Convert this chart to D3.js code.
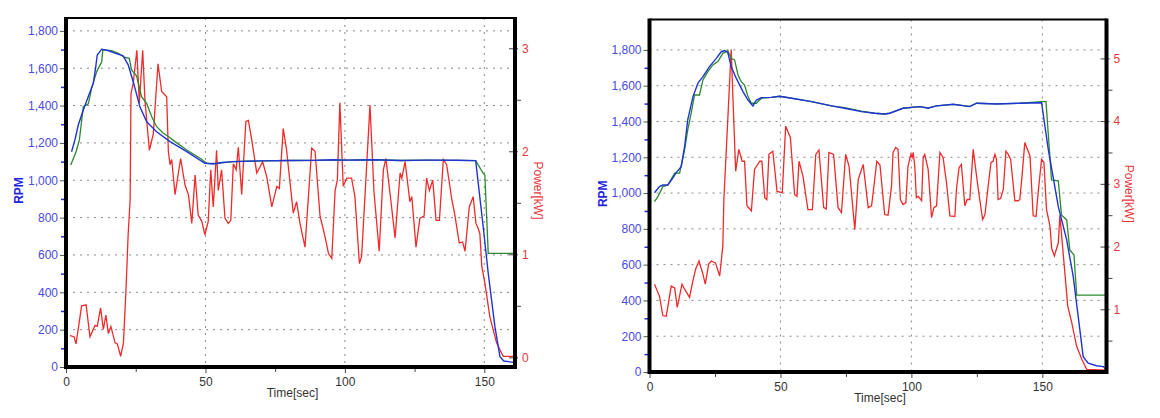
<!DOCTYPE html>
<html>
<head>
<meta charset="utf-8">
<script src="https://cdn.jsdelivr.net/npm/d3@7"></script>
<style>
  body { margin: 0; background: #fff; }
  svg { display: block; font-family: "Liberation Sans", Arial, sans-serif; }
</style>
</head>
<body>
<div id="plot"></div>
<script>
var rpmTicks = [0, 200, 400, 600, 800, 1000, 1200, 1400, 1600, 1800];
var rpmMinorTicks = [100, 300, 500, 700, 900, 1100, 1300, 1500, 1700];
var timeTicks = [0, 50, 100, 150];
var timeMinorTicks = [25, 75, 125];
var leftPowerTicks = [0, 1, 2, 3];
var leftPowerMinorTicks = [0.5, 1.5, 2.5];
var rightPowerTicks = [1, 2, 3, 4, 5];
var rightPowerMinorTicks = [0.5, 1.5, 2.5, 3.5, 4.5];

// [time sec, rpm] - measured speed (blue)
var leftMeasuredRpm = [[2.0,1153],[3.2,1216],[4.4,1296],[6.2,1376],[8.0,1448],[9.8,1520],[10.6,1600],[11.2,1671],[12.8,1702],[15.0,1695],[17.0,1684],[20.5,1666],[22.3,1618],[24.1,1528],[26.5,1394],[28.9,1314],[32.5,1260],[37.3,1207],[43.3,1153],[49.8,1091],[52.8,1087],[56.0,1095],[60.0,1100],[70.0,1104],[80.0,1106],[90.0,1107],[96.0,1110],[100.0,1108],[110.0,1110],[120.0,1106],[130.0,1108],[140.0,1107],[146.9,1105],[149.6,751],[151.4,502],[153.8,216],[155.6,55],[157.0,32],[160.4,25]];
// [time sec, rpm] - command speed (green)
var leftCommandRpm = [[1.7,1082],[3.6,1153],[4.8,1216],[6.2,1394],[8.0,1409],[9.2,1493],[11.0,1582],[12.8,1635],[13.2,1698],[16.4,1694],[18.8,1680],[20.8,1659],[22.7,1653],[23.5,1591],[25.3,1559],[27.1,1448],[28.9,1412],[30.7,1341],[32.5,1287],[34.9,1252],[36.7,1234],[39.1,1207],[43.3,1162],[48.1,1118],[50.4,1091],[54.0,1091],[60.0,1100],[70.0,1104],[80.0,1106],[90.0,1107],[100.0,1108],[110.0,1110],[120.0,1106],[130.0,1108],[140.0,1107],[146.9,1105],[149.6,1037],[150.2,1028],[151.4,609],[161.0,609]];
// [time sec, kW] - power (red)
var leftPower = [[1.4,0.21],[2.9,0.20],[3.6,0.13],[5.6,0.50],[7.2,0.51],[8.6,0.20],[10.4,0.31],[11.2,0.30],[12.4,0.48],[13.4,0.27],[14.3,0.41],[15.2,0.23],[16.1,0.30],[17.6,0.14],[18.4,0.13],[19.6,0.01],[20.6,0.14],[21.5,0.65],[22.3,1.20],[23.0,1.53],[23.3,2.56],[24.1,2.66],[25.4,2.98],[26.3,2.47],[27.5,2.98],[28.3,2.50],[29.9,2.01],[31.3,2.17],[33.0,2.85],[34.3,2.58],[36.1,2.53],[36.7,2.00],[37.3,1.87],[37.9,1.92],[39.1,1.58],[41.1,1.93],[42.7,1.67],[43.9,1.58],[45.1,1.30],[46.3,1.77],[47.4,1.38],[48.7,1.32],[49.8,1.19],[51.0,1.32],[51.9,1.82],[52.8,1.46],[54.0,2.01],[54.6,1.62],[55.8,1.82],[57.0,1.35],[58.2,1.30],[59.1,1.33],[60.0,1.88],[61.0,1.82],[61.8,2.04],[63.0,1.58],[64.5,2.29],[65.4,2.30],[66.6,2.11],[68.4,1.79],[69.6,1.85],[70.5,1.90],[72.0,1.75],[73.8,1.46],[75.6,1.66],[76.5,1.64],[77.9,2.22],[79.1,2.01],[81.5,1.40],[82.7,1.51],[83.9,1.30],[85.7,1.07],[88.1,2.03],[89.3,2.00],[91.1,1.37],[92.9,1.17],[94.1,1.01],[95.3,0.96],[96.5,1.62],[97.3,1.72],[98.2,2.47],[99.4,1.66],[100.7,1.74],[102.4,1.74],[103.6,1.56],[105.2,0.91],[106.0,0.98],[107.2,1.56],[109.0,2.45],[110.4,1.62],[112.3,1.03],[113.8,1.82],[114.7,1.93],[116.2,1.59],[118.0,1.16],[119.8,1.79],[120.4,1.74],[121.6,1.90],[123.3,1.51],[124.0,1.56],[125.5,1.07],[126.9,1.35],[128.4,1.37],[129.3,1.74],[130.3,1.62],[131.5,1.72],[132.7,1.33],[133.9,1.33],[135.3,1.92],[136.5,1.87],[138.3,1.54],[139.5,1.37],[141.0,1.11],[142.2,1.12],[143.1,1.03],[144.6,1.46],[146.0,1.56],[147.0,1.30],[147.8,1.25],[148.4,1.20],[149.1,0.88],[150.2,0.72],[152.0,0.39],[154.4,0.14],[156.2,0.04],[156.8,0.01],[160.4,0.01]];

var rightMeasuredRpm = [[1.9,1002],[3.8,1036],[5.1,1045],[7.0,1045],[8.9,1083],[10.2,1114],[12.1,1148],[13.4,1259],[14.6,1409],[16.6,1539],[18.5,1614],[20.4,1651],[22.9,1707],[25.5,1753],[27.4,1790],[28.7,1796],[29.9,1785],[31.2,1707],[33.1,1642],[35.7,1567],[37.6,1520],[39.5,1487],[40.8,1520],[42.7,1533],[46.5,1535],[49.7,1541],[54.2,1530],[61.9,1511],[69.5,1487],[74.5,1474],[80.9,1455],[86.0,1446],[89.8,1442],[91.7,1446],[96.8,1474],[103.2,1483],[106.4,1474],[109.6,1487],[116.0,1496],[122.3,1483],[124.9,1502],[132.5,1498],[141.4,1502],[149.7,1505],[152.3,1241],[156.1,924],[159.3,738],[161.8,533],[163.7,309],[165.6,86],[167.5,49],[170.7,35],[173.3,30],[174.5,11]];
var rightCommandRpm = [[1.9,952],[3.2,980],[5.1,1036],[7.0,1045],[9.6,1111],[11.5,1111],[13.4,1241],[14.6,1353],[15.9,1446],[17.2,1548],[19.1,1548],[20.4,1632],[22.3,1679],[24.2,1716],[26.1,1735],[28.0,1781],[29.9,1796],[31.2,1753],[32.5,1744],[33.8,1660],[35.0,1623],[36.3,1604],[37.6,1539],[38.9,1502],[40.8,1502],[42.7,1530],[46.5,1535],[49.7,1541],[54.2,1530],[61.9,1511],[69.5,1487],[74.5,1478],[80.9,1458],[86.0,1446],[89.8,1442],[91.7,1446],[96.8,1474],[103.2,1483],[106.4,1476],[109.6,1487],[116.0,1496],[122.3,1485],[124.9,1502],[132.5,1498],[141.4,1502],[149.7,1511],[151.4,1511],[153.5,1073],[156.1,1068],[157.3,878],[159.3,850],[160.5,682],[162.1,654],[163.1,430],[174.5,430]];
var rightPower = [[1.9,1.40],[3.8,1.21],[5.1,0.90],[6.4,0.89],[8.3,1.37],[9.6,1.34],[10.6,1.03],[12.4,1.40],[13.4,1.32],[15.3,1.19],[15.9,1.32],[17.6,1.64],[18.9,1.77],[20.4,1.56],[21.3,1.40],[22.6,1.72],[23.6,1.77],[25.2,1.74],[26.8,1.53],[28.0,2.01],[28.4,2.75],[31.2,5.14],[32.1,4.10],[32.9,3.20],[34.1,3.55],[35.4,3.36],[36.3,3.36],[37.2,2.65],[38.9,2.57],[40.1,3.23],[42.1,3.36],[42.9,3.36],[44.0,2.78],[44.8,2.75],[45.6,3.47],[47.1,3.52],[48.7,2.88],[50.7,2.86],[52.0,3.92],[53.8,3.74],[55.4,2.83],[56.3,2.80],[57.1,3.36],[58.6,3.12],[60.5,2.59],[62.2,2.59],[63.5,3.47],[64.7,3.54],[66.5,2.62],[67.5,2.60],[68.5,3.50],[70.3,3.47],[72.0,2.62],[73.3,2.54],[74.9,3.47],[76.2,3.28],[78.4,2.27],[79.7,3.07],[81.6,3.31],[83.5,2.62],[84.8,2.65],[86.8,3.36],[88.0,3.30],[89.8,2.51],[91.1,2.50],[92.4,2.96],[93.0,3.50],[94.0,3.58],[94.9,3.55],[95.8,2.75],[96.8,2.67],[97.9,2.70],[98.7,3.28],[99.8,3.47],[100.3,3.42],[100.7,3.50],[101.3,3.28],[101.9,2.78],[102.6,2.80],[103.9,2.73],[104.5,3.42],[105.1,3.47],[106.4,3.23],[107.7,2.46],[108.6,2.62],[109.6,2.65],[110.9,3.50],[112.1,3.42],[113.4,3.02],[114.7,2.49],[116.6,2.48],[117.2,2.91],[118.2,3.26],[119.1,3.31],[120.4,2.65],[121.3,2.75],[122.3,2.75],[123.6,3.55],[124.9,3.12],[126.1,2.75],[127.2,2.43],[128.1,2.51],[129.3,2.96],[130.4,3.34],[131.2,3.36],[131.9,3.47],[132.5,3.39],[133.1,2.75],[134.1,2.77],[135.1,2.91],[136.1,3.52],[137.0,3.47],[137.9,3.39],[139.5,2.73],[140.8,2.73],[141.4,2.75],[142.3,3.15],[143.3,3.66],[144.6,3.52],[145.3,3.44],[146.5,2.49],[147.6,2.48],[148.4,2.86],[149.7,3.39],[150.6,3.34],[151.6,2.59],[152.9,2.33],[153.6,1.96],[154.6,1.85],[156.1,2.06],[156.7,2.50],[159.7,1.05],[161.2,0.79],[163.1,0.41],[165.1,0.20],[167.0,0.04],[174.5,0.03]];

var svg = d3.select("#plot")
  .append("svg")
  .attr("width", 1160)
  .attr("height", 418);

function drawPanel(cfg) {
  var g = svg.append("g");

  var x = d3.scaleLinear().domain([0, cfg.tMax]).range([cfg.left, cfg.right]);
  var yRpm = d3.scaleLinear().domain([0, cfg.rpmMax]).range([cfg.bottom, cfg.top]);
  var yPow = d3.scaleLinear().domain([cfg.pMin, cfg.pMax]).range([cfg.bottom, cfg.top]);

  // dotted grid
  g.selectAll("line.hgrid")
    .data(rpmTicks.filter(function(d) { return d > 0; }))
    .enter()
    .append("line")
    .attr("x1", cfg.left).attr("x2", cfg.right)
    .attr("y1", function(d) { return yRpm(d); })
    .attr("y2", function(d) { return yRpm(d); })
    .style("stroke", "#8a8a8a")
    .style("stroke-dasharray", "2,5");

  g.selectAll("line.vgrid")
    .data(timeTicks.filter(function(d) { return d > 0; }))
    .enter()
    .append("line")
    .attr("x1", function(d) { return x(d); })
    .attr("x2", function(d) { return x(d); })
    .attr("y1", cfg.top).attr("y2", cfg.bottom)
    .style("stroke", "#8a8a8a")
    .style("stroke-dasharray", "2,5");

  var lineRpm = d3.line()
    .x(function(d) { return x(d[0]); })
    .y(function(d) { return yRpm(d[1]); });
  var linePow = d3.line()
    .x(function(d) { return x(d[0]); })
    .y(function(d) { return yPow(d[1]); });

  g.append("path").attr("d", linePow(cfg.power))
    .style("fill", "none").style("stroke", "#f02a2a").style("stroke-width", 1.3);
  g.append("path").attr("d", lineRpm(cfg.command))
    .style("fill", "none").style("stroke", "#2c8a2c").style("stroke-width", 1.3);
  g.append("path").attr("d", lineRpm(cfg.measured))
    .style("fill", "none").style("stroke", "#1f34d6").style("stroke-width", 1.4);

  // left rpm axis
  var leftAxis = g.append("g")
    .attr("transform", `translate(${cfg.left}, 0)`)
    .call(d3.axisLeft(yRpm).tickValues(rpmTicks).tickFormat(d3.format(",")).tickSize(6).tickPadding(2));
  leftAxis.selectAll("text").style("fill", "#4a4ae4").style("font-size", "12px").style("font-family", "Liberation Sans, Arial, sans-serif");
  leftAxis.selectAll("line").style("stroke", "#555");

  var leftMinor = g.append("g")
    .attr("transform", `translate(${cfg.left}, 0)`)
    .call(d3.axisLeft(yRpm).tickValues(rpmMinorTicks).tickFormat("").tickSize(5));
  leftMinor.selectAll("line").style("stroke", "#2a2ae0").style("stroke-width", 1.5);

  // right power axis
  var rightAxis = g.append("g")
    .attr("transform", `translate(${cfg.right - 6}, 0)`)
    .call(d3.axisRight(yPow).tickValues(cfg.powerTicks).tickFormat(d3.format("d")).tickSize(9).tickPadding(4));
  rightAxis.selectAll("text").style("fill", "#e8383c").style("font-size", "12px").style("font-family", "Liberation Sans, Arial, sans-serif");
  rightAxis.selectAll("line").style("stroke", "#444");

  var rightMinor = g.append("g")
    .attr("transform", `translate(${cfg.right}, 0)`)
    .call(d3.axisRight(yPow).tickValues(cfg.powerMinorTicks).tickFormat("").tickSize(6));
  rightMinor.selectAll("line").style("stroke", "#444");

  // bottom time axis
  var bottomAxis = g.append("g")
    .attr("transform", `translate(0, ${cfg.bottom})`)
    .call(d3.axisBottom(x).tickValues(timeTicks).tickSize(6).tickPadding(4));
  bottomAxis.selectAll("text").style("fill", "#333").style("font-size", "12px").style("font-family", "Liberation Sans, Arial, sans-serif");
  bottomAxis.selectAll("line").style("stroke", "#444");

  var bottomMinor = g.append("g")
    .attr("transform", `translate(0, ${cfg.bottom})`)
    .call(d3.axisBottom(x).tickValues(timeMinorTicks).tickFormat("").tickSize(5));
  bottomMinor.selectAll("line").style("stroke", "#444");

  g.selectAll(".domain").remove();

  // frame: thin top, heavy left/right/bottom
  g.append("line")
    .attr("x1", cfg.left).attr("x2", cfg.right)
    .attr("y1", cfg.top).attr("y2", cfg.top)
    .style("stroke", "#000").style("stroke-width", 2);
  g.append("path")
    .attr("d", `M${cfg.left},${cfg.top - 1}V${cfg.bottom}H${cfg.right}V${cfg.top - 1}`)
    .style("fill", "none").style("stroke", "#000").style("stroke-width", 4);

  var midY = (cfg.top + cfg.bottom) / 2 - 2;

  g.append("text")
    .attr("transform", `translate(${cfg.left - 47}, ${midY}) rotate(-90)`)
    .attr("dy", "0.35em")
    .style("text-anchor", "middle")
    .style("font-size", "12px")
    .style("font-weight", "bold")
    .style("fill", "#2424dc")
    .text("RPM");

  g.append("text")
    .attr("transform", `translate(${cfg.right + 23}, ${midY}) rotate(90)`)
    .attr("dy", "0.35em")
    .style("text-anchor", "middle")
    .style("font-size", "12px")
    .style("fill", "#e8383c")
    .text("Power[kW]");

  g.append("text")
    .attr("x", (cfg.left + cfg.right) / 2 + 2)
    .attr("y", cfg.bottom + 30)
    .style("text-anchor", "middle")
    .style("font-size", "12px")
    .style("fill", "#333")
    .text("Time[sec]");
}

drawPanel({
  left: 66, right: 515, top: 18, bottom: 367,
  tMax: 161, rpmMax: 1869, pMin: -0.094, pMax: 3.294,
  powerTicks: leftPowerTicks, powerMinorTicks: leftPowerMinorTicks,
  measured: leftMeasuredRpm, command: leftCommandRpm, power: leftPower
});

drawPanel({
  left: 649.5, right: 1106.5, top: 19.5, bottom: 372,
  tMax: 174.5, rpmMax: 1970, pMin: 0, pMax: 5.62,
  powerTicks: rightPowerTicks, powerMinorTicks: rightPowerMinorTicks,
  measured: rightMeasuredRpm, command: rightCommandRpm, power: rightPower
});
</script>
</body>
</html>
